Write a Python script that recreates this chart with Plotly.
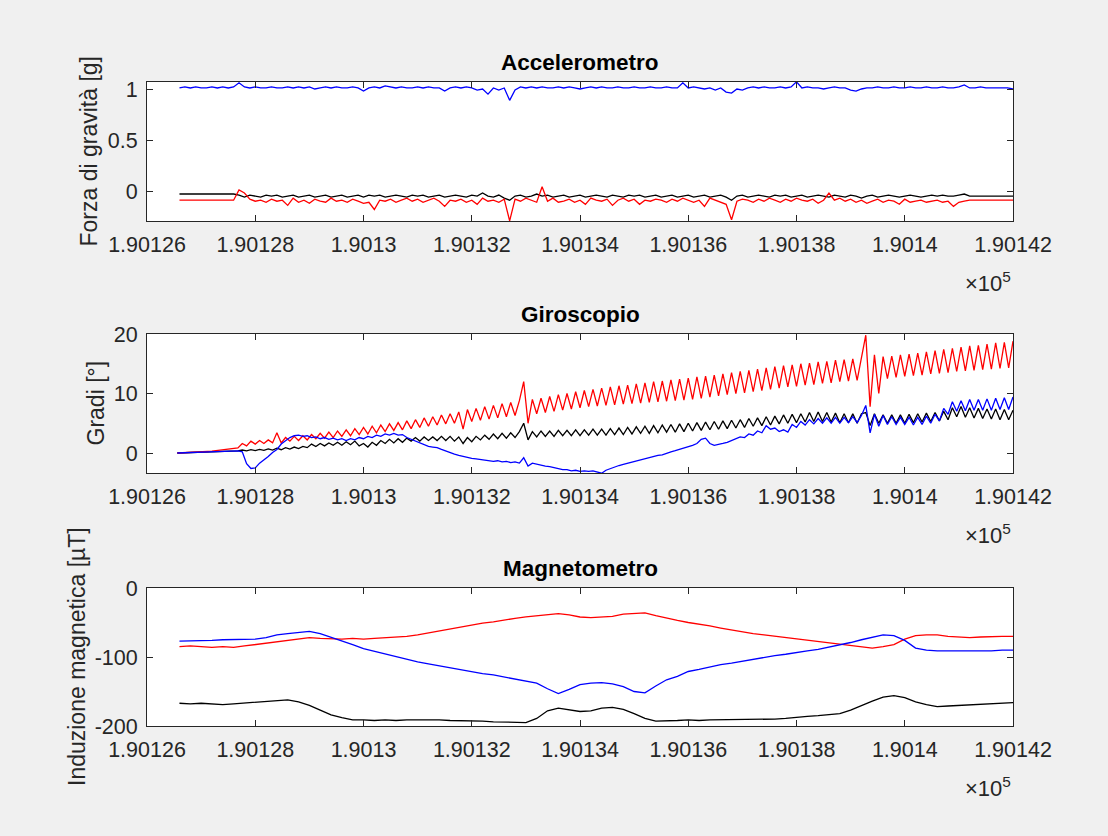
import numpy as np
import plotly.graph_objects as go

W, H = 1108, 836

# ---------------- X tick labels (MATLAB style, x 1e5) ----------------
x_tick_vals = [190126, 190128, 190130, 190132, 190134, 190136, 190138, 190140, 190142]
x_tick_text = ["1.90126", "1.90128", "1.9013", "1.90132", "1.90134",
               "1.90136", "1.90138", "1.9014", "1.90142"]

titles = ["Accelerometro", "Giroscopio", "Magnetometro"]
ylabels = ["Forza di gravità [g]", "Gradi [°]", "Induzione magnetica [µT]"]

# ---------------- Accelerometer (sampled every 0.1 s from 190126.6) ----------------
acc_t0, acc_dt = 190126.6, 0.1
acc_blue = [1.01, 1.02, 1.01, 1.02, 1.01, 1.01, 1.02, 1.01, 1.02, 1.01, 1.02,
            1.06,
            1.02, 1.01, 1.02, 1.01, 1.01, 1.02, 1.01, 1.01, 1.02,
            1.01, 1.02, 1.01, 1.02, 1.00, 1.01, 1.02, 1.01, 1.02, 1.01,
            1.01, 1.02, 1.01, 0.98, 1.01, 1.02, 1.01, 1.03, 1.02, 1.01,
            1.02, 1.01, 1.01, 1.02, 1.01, 1.02, 1.01, 1.01, 0.98, 1.01,
            1.02, 1.01, 1.02, 1.01, 0.99, 1.00, 0.95, 1.01, 0.99, 1.01,
            0.89,
            0.99, 1.02, 1.01, 1.02, 1.01, 1.02, 1.01, 1.01, 1.02,
            1.01, 1.02, 1.01, 1.00, 1.01, 1.02, 1.01, 1.02, 1.01, 1.01,
            1.02, 1.01, 1.01, 1.02, 1.01, 1.01, 1.02, 1.01, 1.01, 1.02,
            1.01, 1.01, 1.06, 1.01, 1.02, 1.01, 1.00, 1.01, 0.99, 1.01,
            0.97, 0.96, 1.00, 0.99, 1.01, 1.02, 1.01, 1.02, 1.01, 1.01,
            1.02, 1.01, 1.02, 1.07, 1.01, 1.02, 1.01, 1.01, 1.00, 1.01,
            1.02, 1.01, 1.01, 0.99, 0.98, 1.00, 1.01, 1.01, 1.02, 1.01,
            1.01, 1.02, 1.01, 1.01, 1.02, 1.01, 1.01, 1.02, 1.01, 1.01,
            1.02, 1.01, 1.01, 1.02, 1.04, 1.01, 1.01, 1.02, 1.01, 1.01,
            1.01, 1.01, 1.01, 1.00]
acc_black = [-0.02, -0.02, -0.02, -0.02, -0.02, -0.02, -0.02, -0.02, -0.02, -0.02, -0.02,
             -0.03, -0.05, -0.03, -0.04, -0.05, -0.03, -0.04, -0.03, -0.05, -0.04,
             -0.03, -0.05, -0.04, -0.03, -0.05, -0.04, -0.03, -0.05, -0.04, -0.03,
             -0.05, -0.04, -0.03, -0.05, -0.03, -0.04, -0.03, -0.05, -0.04, -0.03,
             -0.04, -0.05, -0.03, -0.04, -0.03, -0.05, -0.04, -0.03, -0.05, -0.04,
             -0.03, -0.04, -0.05, -0.03, -0.04, -0.01, -0.04, -0.05, -0.03, -0.06,
             -0.08, -0.04, -0.03, -0.05, -0.04, -0.02, -0.04, -0.03, -0.05, -0.04,
             -0.03, -0.05, -0.04, -0.03, -0.05, -0.04, -0.03, -0.04, -0.05, -0.03,
             -0.04, -0.05, -0.03, -0.04, -0.03, -0.05, -0.04, -0.03, -0.05, -0.04,
             -0.03, -0.05, -0.04, -0.03, -0.05, -0.04, -0.03, -0.05, -0.04, -0.03,
             -0.05, -0.08, -0.04, -0.03, -0.05, -0.04, -0.03, -0.04, -0.05, -0.03,
             -0.04, -0.03, -0.05, -0.04, -0.03, -0.05, -0.04, -0.03, -0.04, -0.05,
             -0.03, -0.04, -0.05, -0.03, -0.04, -0.06, -0.04, -0.03, -0.05, -0.04,
             -0.03, -0.04, -0.05, -0.04, -0.03, -0.04, -0.05, -0.04, -0.03, -0.04,
             -0.03, -0.04, -0.04, -0.03, -0.02, -0.04, -0.04, -0.04, -0.04, -0.04,
             -0.04, -0.04, -0.04, -0.04]
acc_red = [-0.08, -0.08, -0.08, -0.08, -0.08, -0.08, -0.08, -0.08, -0.08, -0.08, -0.08,
           0.02,
           -0.01, -0.07, -0.09, -0.08, -0.10, -0.07, -0.09, -0.08, -0.13,
           -0.06, -0.10, -0.08, -0.11, -0.07, -0.09, -0.10, -0.06, -0.09, -0.08,
           -0.10, -0.07, -0.09, -0.11, -0.10, -0.17, -0.08, -0.09, -0.07, -0.10,
           -0.08, -0.06, -0.09, -0.07, -0.10, -0.08, -0.06, -0.09, -0.14, -0.08,
           -0.09, -0.07, -0.10, -0.08, -0.12, -0.06, -0.09, -0.08, -0.10, -0.07,
           -0.28,
           -0.07, -0.09, -0.06, -0.08, -0.10, 0.05, -0.09, -0.06, -0.10,
           -0.09, -0.07, -0.10, -0.08, -0.12, -0.06, -0.08, -0.09, -0.07, -0.13,
           -0.08, -0.06, -0.09, -0.07, -0.12, -0.08, -0.09, -0.07, -0.08, -0.10,
           -0.07, -0.09, -0.06, -0.08, -0.10, -0.08, -0.14, -0.06, -0.08, -0.10,
           -0.12, -0.27, -0.09, -0.07, -0.08, -0.10, -0.07, -0.09, -0.06, -0.08,
           -0.10, -0.07, -0.09, -0.06, -0.08, -0.09, -0.07, -0.11, -0.08, -0.01,
           -0.08, -0.06, -0.09, -0.07, -0.10, -0.08, -0.11, -0.09, -0.07, -0.10,
           -0.08, -0.09, -0.12, -0.07, -0.10, -0.09, -0.08, -0.10, -0.09, -0.08,
           -0.10, -0.09, -0.14, -0.10, -0.09, -0.08, -0.08, -0.08, -0.08, -0.08,
           -0.08, -0.08, -0.08, -0.08]

# ---------------- Gyroscope (sampled every 0.08 s from 190126.56) ----------------
gyr_t0, gyr_dt = 190126.56, 0.08
gyr_red = [0.0, 0.02, 0.05, 0.08, 0.1, 0.15, 0.2, 0.25, 0.3, 0.38, 0.45, 0.5, 0.6, 0.7, 0.85,
           1.6, 1.2, 2.0, 1.5, 2.1,
           1.6, 2.2, 1.7, 3.4, 1.7, 2.6, 2.0, 2.8, 2.1, 2.9,
           2.2, 3.1, 2.4, 3.3, 2.5, 3.5, 2.6, 3.7, 2.8, 3.9,
           2.9, 4.1, 3.1, 4.3, 3.2, 4.5, 3.4, 4.7, 3.6, 4.9,
           3.8, 5.1, 3.9, 5.4, 4.1, 5.6, 4.3, 5.9, 4.5, 6.1,
           4.7, 6.4, 4.9, 6.6, 5.0, 6.9, 4.0, 7.3, 5.3, 7.5,
           5.5, 7.8, 5.7, 8.0, 5.9, 8.3, 6.1, 8.5, 6.3, 8.8,
           12.0, 5.0, 9.0, 6.6, 9.2, 6.8, 9.5, 7.0, 9.8, 7.2,
           10.0, 7.4, 10.3, 7.6, 10.5, 7.8, 10.7, 7.9, 10.9, 8.0,
           11.1, 8.1, 11.3, 8.2, 11.4, 8.3, 11.6, 8.4, 11.8, 8.5,
           12.0, 8.6, 12.1, 8.7, 12.3, 8.8, 12.4, 8.9, 12.6, 9.0,
           12.8, 9.2, 12.9, 9.4, 13.1, 9.6, 13.3, 9.8, 13.5, 10.0,
           13.7, 10.1, 13.9, 10.3, 14.1, 10.5, 14.3, 10.7, 14.5, 10.9,
           14.7, 11.1, 14.8, 11.2, 15.0, 11.4, 15.1, 11.5, 15.3, 11.7,
           15.4, 11.8, 15.6, 12.0, 15.7, 12.1, 15.8, 12.2, 16.0, 19.8,
           7.8, 16.5, 10.0, 16.2, 12.5, 16.3, 12.7, 16.5, 12.9, 16.6,
           13.0, 16.8, 13.1, 17.0, 13.3, 17.2, 13.4, 17.4, 13.5, 17.6,
           13.7, 17.8, 13.8, 18.0, 13.9, 18.1, 14.0, 18.3, 14.1, 18.5,
           14.2, 18.6, 14.3, 18.8]
gyr_black = [0.0, 0.02, 0.04, 0.06, 0.08, 0.1, 0.12, 0.15, 0.18, 0.2, 0.22, 0.25, 0.28, 0.3, 0.35,
             0.5, 0.35, 0.55, 0.4, 0.6,
             0.45, 0.7, 0.5, 0.8, 0.55, 0.9, 0.65, 1.0, 0.75, 1.1,
             0.9, 1.5, 1.1, 1.6, 1.2, 1.7, 1.3, 1.8, 1.3, 1.9,
             1.4, 2.0, 1.2, 1.6, 1.0, 1.8, 1.3, 2.1, 1.6, 2.3,
             1.7, 2.4, 1.8, 2.5, 2.0, 2.6, 2.0, 2.7, 2.1, 2.7,
             2.1, 2.8, 2.1, 2.8, 2.0, 2.7, 1.6, 2.6, 1.9, 2.8,
             2.2, 3.0, 2.3, 3.2, 2.4, 3.3, 2.5, 3.4, 2.6, 3.6,
             5.0, 2.2, 3.6, 2.7, 3.7, 2.8, 3.7, 2.8, 3.8, 2.9,
             3.8, 2.9, 3.9, 2.9, 3.9, 3.0, 4.0, 3.0, 4.0, 3.0,
             4.1, 3.1, 4.2, 3.1, 4.3, 3.2, 4.4, 3.3, 4.5, 3.3,
             4.6, 3.4, 4.7, 3.5, 4.8, 3.5, 4.9, 3.6, 5.0, 3.7,
             5.1, 3.8, 5.2, 3.9, 5.3, 4.0, 5.4, 4.1, 5.5, 4.2,
             5.6, 4.3, 5.8, 4.5, 5.9, 4.6, 6.1, 4.7, 6.2, 4.9,
             6.4, 5.0, 6.5, 5.1, 6.6, 5.2, 6.8, 5.3, 6.9, 5.3,
             6.8, 5.2, 6.7, 5.1, 6.6, 5.1, 6.6, 5.0, 6.6, 6.8,
             4.6, 6.6, 5.0, 6.4, 5.0, 6.4, 5.0, 6.4, 5.0, 6.5,
             5.1, 6.6, 5.2, 6.7, 5.3, 6.8, 5.4, 7.0, 5.6, 7.6,
             6.1, 7.8, 6.0, 7.6, 5.9, 7.5, 5.8, 7.4, 5.7, 7.4,
             5.6, 7.3, 5.6, 7.2]
gyr_blue = [0.0, 0.02, 0.04, 0.06, 0.08, 0.1, 0.12, 0.15, 0.18, 0.2, 0.22, 0.25, 0.28, 0.3, 0.35,
            0.2, -1.8, -2.6, -2.5, -1.7,
            -1.2, -0.6, 0.1, 0.6, 1.5, 2.0, 2.6, 2.9, 3.0, 2.8,
            2.9, 2.6, 2.7, 2.4, 2.6, 2.3, 2.5, 2.2, 2.4, 2.1,
            2.4, 2.2, 2.6, 2.4, 2.8, 2.6, 3.0, 2.8, 3.2, 3.0,
            3.3, 3.0, 3.1, 2.6, 2.3, 2.0, 1.6, 1.3, 1.1, 1.0,
            0.9, 0.6, 0.3, 0.0, -0.2, -0.4, -0.6, -0.7, -0.9, -1.0,
            -1.1, -1.2, -1.2, -1.4, -1.3, -1.5, -1.4, -1.6, -1.5, -1.7,
            -0.8, -2.2, -1.7, -1.9, -2.0, -2.2, -2.3, -2.5, -2.6, -2.8,
            -2.8, -3.0, -2.9, -3.1, -3.0, -3.1, -3.0, -3.2, -3.4, -2.9,
            -2.6, -2.4, -2.1, -1.9, -1.7, -1.5, -1.3, -1.1, -0.9, -0.7,
            -0.6, -0.4, -0.3, 0.0, 0.2, 0.4, 0.6, 0.8, 1.0, 1.3,
            1.6, 2.3, 2.5, 1.6, 1.3, 1.4, 1.6, 1.8, 2.1, 2.3,
            2.7, 2.6, 3.2, 3.0, 3.7, 3.4, 4.6, 4.0, 4.2, 3.6,
            3.9, 3.5, 4.8, 4.3, 5.3, 4.7, 5.6, 4.9, 5.8, 5.0,
            5.9, 5.0, 6.0, 5.0, 6.0, 5.1, 6.1, 5.1, 6.3, 8.0,
            3.4, 6.5, 4.5, 6.3, 4.8, 6.1, 4.8, 6.0, 4.8, 6.0,
            4.7, 6.0, 4.8, 6.2, 5.0, 6.5, 5.4, 7.5, 6.5, 8.6,
            7.0, 8.8, 7.1, 9.0, 7.2, 9.0, 7.2, 9.1, 7.2, 9.2,
            7.3, 9.3, 7.3, 9.4]

# ---------------- Magnetometer (sampled every 0.2 s from 190126.6) ----------------
mag_t0, mag_dt = 190126.6, 0.2
mag_red = [-85, -84, -85, -86, -85, -86, -84, -82, -81, -79,
           -76, -74, -72, -73, -74, -74, -73, -74, -73, -72,
           -72, -70, -68, -65, -62, -59, -57, -54, -51, -49,
           -46, -44, -42, -40, -38, -37, -39, -42, -43, -42,
           -41, -38, -37, -36, -40, -44, -47, -50, -52, -55,
           -58, -61, -63, -66, -68, -70, -72, -74, -76, -78,
           -80, -82, -84, -86, -87, -85, -82, -74, -69, -68,
           -68, -70, -71, -72, -71, -70, -70, -70]
mag_blue = [-77, -77, -76, -76, -75, -75, -75, -74, -72, -68,
            -66, -64, -63, -66, -71, -76, -82, -88, -92, -96,
            -100, -104, -107, -110, -113, -116, -118, -121, -124, -126,
            -129, -132, -134, -138, -146, -153, -147, -140, -138, -137,
            -139, -143, -150, -152, -142, -133, -128, -121, -118, -114,
            -111, -109, -106, -103, -100, -98, -96, -93, -91, -89,
            -86, -83, -79, -75, -71, -68, -69, -76, -87, -90,
            -91, -91, -91, -92, -92, -91, -90, -90]
mag_black = [-167, -168, -167, -168, -169, -168, -167, -166, -165, -163,
             -162, -165, -170, -177, -184, -188, -191, -191, -192, -191,
             -192, -191, -191, -190, -191, -192, -192, -193, -193, -194,
             -194, -195, -195, -189, -178, -174, -176, -179, -178, -174,
             -173, -176, -182, -189, -193, -193, -192, -191, -192, -191,
             -191, -191, -191, -190, -191, -190, -189, -187, -186, -185,
             -184, -182, -177, -170, -164, -158, -156, -159, -165, -169,
             -172, -171, -170, -169, -168, -167, -167, -166]


def grid(t0, dt, n):
    return np.round(t0 + dt * np.arange(n), 4)


panels = [
    dict(t0=acc_t0, dt=acc_dt, series=[(acc_black, "#000000"), (acc_red, "#ff0000"), (acc_blue, "#0000ff")],
         yrange=[-0.282, 1.068], yticks=[0, 0.5, 1], yticktext=["0", "0.5", "1"],
         top=82, bottom=221),
    dict(t0=gyr_t0, dt=gyr_dt, series=[(gyr_black, "#000000"), (gyr_red, "#ff0000"), (gyr_blue, "#0000ff")],
         yrange=[-3.36, 20], yticks=[0, 10, 20], yticktext=["0", "10", "20"],
         top=334, bottom=473),
    dict(t0=mag_t0, dt=mag_dt, series=[(mag_black, "#000000"), (mag_red, "#ff0000"), (mag_blue, "#0000ff")],
         yrange=[-200, 0], yticks=[-200, -100, 0], yticktext=["-200", "-100", "0"],
         top=588, bottom=726),
]

FONT = "Liberation Sans, Arial, Helvetica, sans-serif"
AXC = "#262626"
left_px, right_px = 147, 1013

fig = go.Figure()
layout = dict(
    width=W, height=H,
    paper_bgcolor="#f0f0f0", plot_bgcolor="#ffffff",
    margin=dict(l=0, r=0, t=0, b=0),
    showlegend=False,
    font=dict(family=FONT, color=AXC),
)
annotations = []

for k, p in enumerate(panels):
    sfx = "" if k == 0 else str(k + 1)
    for vals, col in p["series"]:
        fig.add_trace(go.Scatter(
            x=grid(p["t0"], p["dt"], len(vals)), y=vals, mode="lines",
            line=dict(color=col, width=1.3),
            xaxis="x" + sfx, yaxis="y" + sfx, hoverinfo="skip"))
    common = dict(showline=True, linecolor=AXC, linewidth=1, mirror="ticks",
                  ticks="inside", ticklen=6, tickcolor=AXC, tickwidth=1,
                  showgrid=False, zeroline=False, automargin=False,
                  tickfont=dict(family=FONT, size=21.5, color=AXC))
    layout["xaxis" + sfx] = dict(
        common, domain=[left_px / W, right_px / W], range=[190126, 190142],
        tickmode="array", tickvals=x_tick_vals, ticktext=x_tick_text,
        anchor="y" + sfx, ticklabelstandoff=4)
    layout["yaxis" + sfx] = dict(
        common, domain=[1 - p["bottom"] / H, 1 - p["top"] / H], range=p["yrange"],
        tickmode="array", tickvals=p["yticks"], ticktext=p["yticktext"],
        anchor="x" + sfx, ticklabelstandoff=4)
    # title
    annotations.append(dict(
        text="<b>" + titles[k] + "</b>", xref="paper", yref="paper",
        x=(left_px + right_px) / 2 / W, y=1 - (p["top"] - 20) / H,
        xanchor="center", yanchor="middle", showarrow=False,
        font=dict(family=FONT, size=22.5, color="#000000")))
    # y label
    annotations.append(dict(
        text=ylabels[k], xref="paper", yref="paper",
        x=[88, 96, 77][k] / W, y=1 - (p["top"] + p["bottom"]) / 2 / H,
        xanchor="center", yanchor="middle", textangle=-90, showarrow=False,
        font=dict(family=FONT, size=23, color=AXC)))
    # exponent label
    annotations.append(dict(
        text="×10<sup>5</sup>", xref="paper", yref="paper",
        x=right_px / W, y=1 - (p["bottom"] + 61) / H,
        xanchor="right", yanchor="middle", showarrow=False,
        font=dict(family=FONT, size=22, color=AXC)))

layout["annotations"] = annotations
fig.update_layout(**layout)
fig.write_html("out.html",
               config={"displayModeBar": False},
               post_script="document.body.style.margin='0';document.body.style.background='#f0f0f0';")
